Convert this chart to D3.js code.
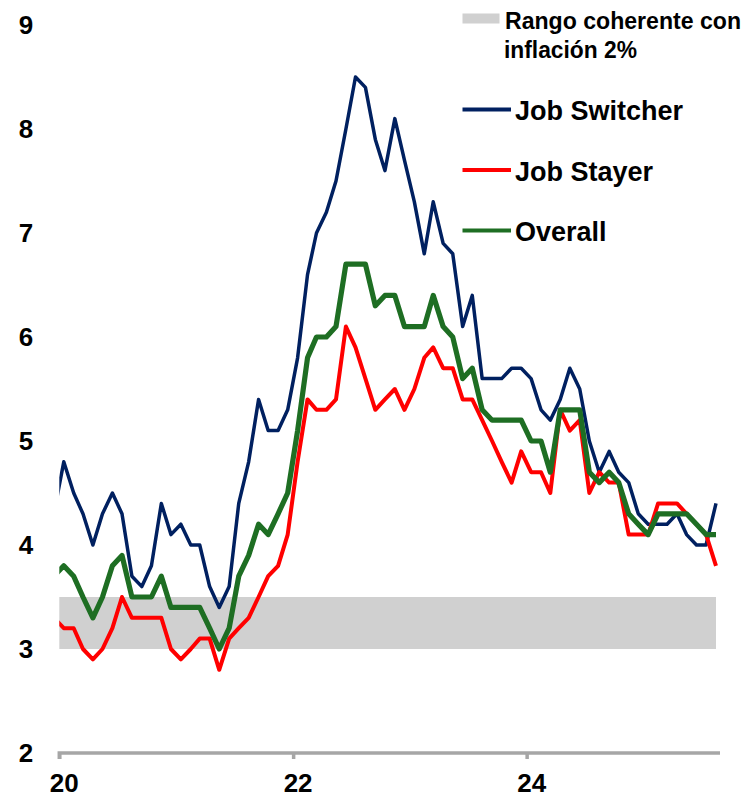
<!DOCTYPE html>
<html>
<head>
<meta charset="utf-8">
<script src="https://cdn.jsdelivr.net/npm/d3@7"></script>
<style>
body { margin: 0; background: white; }
svg text { font-family: "Liberation Sans", Arial, sans-serif; font-weight: bold; fill: #000; }
</style>
</head>
<body>
<div id="chart"></div>
<script>
// monthly, 3-month moving average (first point only shows as a clipped stub)
var months = [
  "2019-12",
  "2020-01","2020-02","2020-03","2020-04","2020-05","2020-06","2020-07","2020-08","2020-09","2020-10","2020-11","2020-12",
  "2021-01","2021-02","2021-03","2021-04","2021-05","2021-06","2021-07","2021-08","2021-09","2021-10","2021-11","2021-12",
  "2022-01","2022-02","2022-03","2022-04","2022-05","2022-06","2022-07","2022-08","2022-09","2022-10","2022-11","2022-12",
  "2023-01","2023-02","2023-03","2023-04","2023-05","2023-06","2023-07","2023-08","2023-09","2023-10","2023-11","2023-12",
  "2024-01","2024-02","2024-03","2024-04","2024-05","2024-06","2024-07","2024-08","2024-09","2024-10","2024-11","2024-12",
  "2025-01","2025-02","2025-03","2025-04","2025-05","2025-06","2025-07","2025-08"
];
var jobSwitcher = [
  4.3,
  4.8, 4.5, 4.3, 4.0, 4.3, 4.5, 4.3, 3.7, 3.6, 3.8, 4.4, 4.1,
  4.2, 4.0, 4.0, 3.6, 3.4, 3.6, 4.4, 4.8, 5.4, 5.1, 5.1, 5.3,
  5.8, 6.6, 7.0, 7.2, 7.5, 8.0, 8.5, 8.4, 7.9, 7.6, 8.1, 7.7,
  7.3, 6.8, 7.3, 6.9, 6.8, 6.1, 6.4, 5.6, 5.6, 5.6, 5.7, 5.7,
  5.6, 5.3, 5.2, 5.4, 5.7, 5.5, 5.0, 4.7, 4.9, 4.7, 4.6, 4.3,
  4.2, 4.2, 4.2, 4.3, 4.1, 4.0, 4.0, 4.4
];
var jobStayer = [
  3.3,
  3.2, 3.2, 3.0, 2.9, 3.0, 3.2, 3.5, 3.3, 3.3, 3.3, 3.3, 3.0,
  2.9, 3.0, 3.1, 3.1, 2.8, 3.1, 3.2, 3.3, 3.5, 3.7, 3.8, 4.1,
  4.8, 5.4, 5.3, 5.3, 5.4, 6.1, 5.9, 5.6, 5.3, 5.4, 5.5, 5.3,
  5.5, 5.8, 5.9, 5.7, 5.7, 5.4, 5.4, 5.2, 5.0, 4.8, 4.6, 4.9,
  4.7, 4.7, 4.5, 5.3, 5.1, 5.2, 4.5, 4.7, 4.6, 4.6, 4.1, 4.1,
  4.1, 4.4, 4.4, 4.4, 4.3, 4.2, 4.1, 3.8
];
var overall = [
  3.7,
  3.8, 3.7, 3.5, 3.3, 3.5, 3.8, 3.9, 3.5, 3.5, 3.5, 3.7, 3.4,
  3.4, 3.4, 3.4, 3.2, 3.0, 3.2, 3.7, 3.9, 4.2, 4.1, 4.3, 4.5,
  5.1, 5.8, 6.0, 6.0, 6.1, 6.7, 6.7, 6.7, 6.3, 6.4, 6.4, 6.1,
  6.1, 6.1, 6.4, 6.1, 6.0, 5.6, 5.7, 5.3, 5.2, 5.2, 5.2, 5.2,
  5.0, 5.0, 4.7, 5.3, 5.3, 5.3, 4.7, 4.6, 4.7, 4.6, 4.3, 4.2,
  4.1, 4.3, 4.3, 4.3, 4.3, 4.2, 4.1, 4.1
];
var seriesNames = ["Job Switcher", "Job Stayer", "Overall"];
var seriesColors = ["#002060", "#ff0000", "#1e6e23"];
var bandRange = [3, 3.5];
var bandLabel = ["Rango coherente con", "inflación 2%"];
var yTicks = [2, 3, 4, 5, 6, 7, 8, 9];
var xTickYears = ["2020", "2022", "2024"];

var W = 744, H = 799;
var parseMonth = d3.timeParse("%Y-%m");
var parseYear = d3.timeParse("%Y");
var midMonth = function(m) { return d3.timeDay.offset(parseMonth(m), 14); };

var svg = d3.select("#chart")
    .append("svg")
    .attr("width", W)
    .attr("height", H);

var x = d3.scaleTime()
    .domain([parseYear("2020"), midMonth(months[months.length - 1])])
    .range([59.3, 716]);
var y = d3.scaleLinear()
    .domain([2, 9])
    .range([753, 25]);

svg.append("clipPath")
    .attr("id", "plotclip")
    .append("rect")
    .attr("x", x.range()[0])
    .attr("y", 0)
    .attr("width", x.range()[1] - x.range()[0] + 4)
    .attr("height", H);

// band of wage growth consistent with 2% inflation
svg.append("rect")
    .attr("x", x.range()[0])
    .attr("y", y(bandRange[1]))
    .attr("width", x.range()[1] - x.range()[0])
    .attr("height", y(bandRange[0]) - y(bandRange[1]))
    .style("fill", "#d0d0d0");

// y labels, no axis line
var yAxis = svg.append("g")
    .attr("transform", "translate(" + x.range()[0] + ",0)")
    .call(d3.axisLeft(y).tickValues(yTicks).tickFormat(d3.format("d")).tickSize(0).tickPadding(26));
yAxis.select(".domain").remove();
yAxis.selectAll("text").style("font-size", "26px");

// x axis
var xAxis = svg.append("g")
    .attr("transform", "translate(0," + y(2) + ")")
    .call(d3.axisBottom(x).tickValues(xTickYears.map(parseYear)).tickFormat(d3.timeFormat("%y")).tickSize(6).tickPadding(15));
xAxis.select(".domain")
    .attr("d", "M" + x.range()[0] + ",6V0H" + (x.range()[1] + 4))
    .style("stroke", "#a6a6a6")
    .style("stroke-width", 3.5)
    .style("fill", "none");
xAxis.selectAll(".tick line")
    .style("stroke", "#a6a6a6")
    .style("stroke-width", 3.5);
xAxis.selectAll(".tick text")
    .attr("x", function(d) { return x(d3.timeDay.offset(d, 14)) - x(d); })
    .style("font-size", "26px");

// lines
var allSeries = [jobSwitcher, jobStayer, overall];
var widths = [3.5, 4, 5.2];
var line = d3.line()
    .x(function(d, i) { return x(midMonth(months[i])); })
    .y(function(d) { return y(d); });

var lines = svg.append("g").attr("clip-path", "url(#plotclip)");
allSeries.forEach(function(s, j) {
    lines.append("path")
        .datum(s)
        .attr("d", line)
        .style("fill", "none")
        .style("stroke", seriesColors[j])
        .style("stroke-width", widths[j])
        .style("stroke-linejoin", "round");
});

// legend
var legend = svg.append("g");
legend.append("rect")
    .attr("x", 462.5)
    .attr("y", 13.5)
    .attr("width", 37)
    .attr("height", 10)
    .style("fill", "#d0d0d0");
legend.append("text")
    .attr("x", 505)
    .attr("y", 28.5)
    .attr("textLength", 236)
    .attr("lengthAdjust", "spacingAndGlyphs")
    .style("font-size", "23px")
    .text(bandLabel[0]);
legend.append("text")
    .attr("x", 504)
    .attr("y", 57.5)
    .attr("textLength", 133)
    .attr("lengthAdjust", "spacingAndGlyphs")
    .style("font-size", "23px")
    .text(bandLabel[1]);

seriesNames.forEach(function(name, j) {
    var ly = 109.5 + j * 60.5;
    legend.append("line")
        .attr("x1", 462.5)
        .attr("x2", 511)
        .attr("y1", ly)
        .attr("y2", ly)
        .style("stroke", seriesColors[j])
        .style("stroke-width", 3.8);
    legend.append("text")
        .attr("x", 515)
        .attr("y", ly + 10.5)
        .style("font-size", "27px")
        .text(name);
});
</script>
</body>
</html>
